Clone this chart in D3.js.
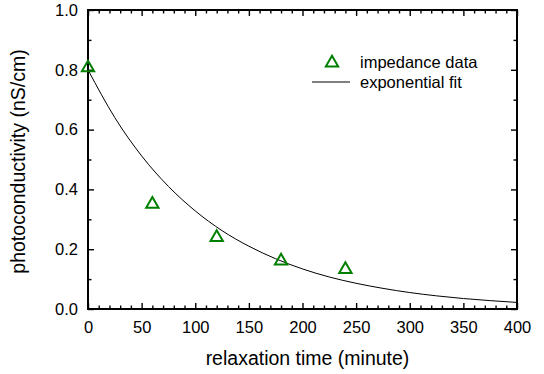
<!DOCTYPE html>
<html>
<head>
<meta charset="utf-8">
<script src="https://cdn.jsdelivr.net/npm/d3@7"></script>
<style>
  body { margin: 0; background: #fff; }
  svg { display: block; font-family: Arial, 'Liberation Sans', sans-serif; }
</style>
</head>
<body>
<div id="chart"></div>
<script>
// impedance data (minutes, nS/cm)
let dataTime = [0, 60, 120, 180, 240];
let dataCond = [0.81, 0.354, 0.243, 0.164, 0.136];

// exponential fit curve
let fitTime = [0, 25, 50, 75, 100, 125, 150, 175, 200, 225, 250, 275, 300, 325, 350, 375, 400];
let fitCond = [0.800, 0.640, 0.512, 0.410, 0.328, 0.262, 0.210, 0.168, 0.134, 0.107, 0.086, 0.069, 0.055, 0.044, 0.035, 0.028, 0.022];

let xTicks = [0, 50, 100, 150, 200, 250, 300, 350, 400];
let yTicks = [0.0, 0.2, 0.4, 0.6, 0.8, 1.0];

{
  let sizex = 544,
      sizey = 374;

  var margin = {top: 10, right: 27, bottom: 65, left: 88},
      width = sizex - margin.left - margin.right,
      height = sizey - margin.top - margin.bottom;

  var svg = d3.select("#chart")
    .append("svg")
      .attr("width", sizex)
      .attr("height", sizey)
    .append("g")
      .attr("transform", "translate(" + margin.left + "," + margin.top + ")");

  var x = d3.scaleLinear().domain([0, 400]).range([0, width]);
  var y = d3.scaleLinear().domain([0, 1]).range([height, 0]);

  var minorX = d3.range(0, 401, 10).filter(d => d % 50 != 0);
  var minorY = d3.range(0, 1.001, 0.1).filter((d, i) => i % 2 == 1);

  function styleAxis(g) {
    g.select(".domain").remove();
    g.selectAll("line").attr("stroke", "#000").attr("stroke-width", 1.4);
    g.selectAll("text").style("font-size", "16.5px").attr("fill", "#000");
  }

  // bottom
  svg.append("g")
    .attr("transform", "translate(0," + height + ")")
    .call(d3.axisBottom(x).tickValues(xTicks).tickSize(-6).tickPadding(12))
    .call(styleAxis);
  svg.append("g")
    .attr("transform", "translate(0," + height + ")")
    .call(d3.axisBottom(x).tickValues(minorX).tickSize(-3.5).tickFormat(""))
    .call(styleAxis);
  // top
  svg.append("g")
    .call(d3.axisTop(x).tickValues(xTicks).tickSize(-6).tickFormat(""))
    .call(styleAxis);
  svg.append("g")
    .call(d3.axisTop(x).tickValues(minorX).tickSize(-3.5).tickFormat(""))
    .call(styleAxis);
  // left
  svg.append("g")
    .call(d3.axisLeft(y).tickValues(yTicks).tickSize(-6).tickPadding(10).tickFormat(d3.format(".1f")))
    .call(styleAxis);
  svg.append("g")
    .call(d3.axisLeft(y).tickValues(minorY).tickSize(-3.5).tickFormat(""))
    .call(styleAxis);
  // right
  svg.append("g")
    .attr("transform", "translate(" + width + ",0)")
    .call(d3.axisRight(y).tickValues(yTicks).tickSize(-6).tickFormat(""))
    .call(styleAxis);
  svg.append("g")
    .attr("transform", "translate(" + width + ",0)")
    .call(d3.axisRight(y).tickValues(minorY).tickSize(-3.5).tickFormat(""))
    .call(styleAxis);

  // frame
  svg.append("rect")
    .attr("width", width)
    .attr("height", height)
    .attr("fill", "none")
    .attr("stroke", "#000")
    .attr("stroke-width", 2);

  // fit line
  var line = d3.line()
    .x((d, i) => x(fitTime[i]))
    .y(d => y(d))
    .curve(d3.curveMonotoneX);
  svg.append("path")
    .attr("d", line(fitCond))
    .attr("fill", "none")
    .attr("stroke", "#000")
    .attr("stroke-width", 1);

  // data triangles
  var tri = d3.symbol().type(d3.symbolTriangle).size(66);
  dataCond.forEach(function(d, i) {
    svg.append("path")
      .attr("d", tri())
      .attr("transform", "translate(" + x(dataTime[i]) + "," + (y(d) + 1) + ")")
      .attr("fill", "none")
      .attr("stroke", "#008000")
      .attr("stroke-width", 2);
  });

  // legend
  var leg = svg.append("g");
  leg.append("path")
    .attr("d", tri())
    .attr("transform", "translate(" + (332 - margin.left) + "," + (63 - margin.top) + ")")
    .attr("fill", "none")
    .attr("stroke", "#008000")
    .attr("stroke-width", 2);
  leg.append("text")
    .attr("x", 360 - margin.left)
    .attr("y", 68 - margin.top)
    .style("font-size", "16.5px")
    .text("impedance data");
  leg.append("line")
    .attr("x1", 312 - margin.left)
    .attr("x2", 350 - margin.left)
    .attr("y1", 82 - margin.top)
    .attr("y2", 82 - margin.top)
    .attr("stroke", "#000")
    .attr("stroke-width", 1);
  leg.append("text")
    .attr("x", 360 - margin.left)
    .attr("y", 88 - margin.top)
    .style("font-size", "16.5px")
    .text("exponential fit");

  // axis titles
  svg.append("text")
    .attr("x", width / 2 + 5)
    .attr("y", height + 56)
    .style("text-anchor", "middle")
    .style("font-size", "19.5px")
    .text("relaxation time (minute)");
  svg.append("text")
    .attr("transform", "translate(-63," + (height / 2 + 2) + ")rotate(-90)")
    .style("text-anchor", "middle")
    .style("font-size", "19.5px")
    .text("photoconductivity (nS/cm)");
}
</script>
</body>
</html>
